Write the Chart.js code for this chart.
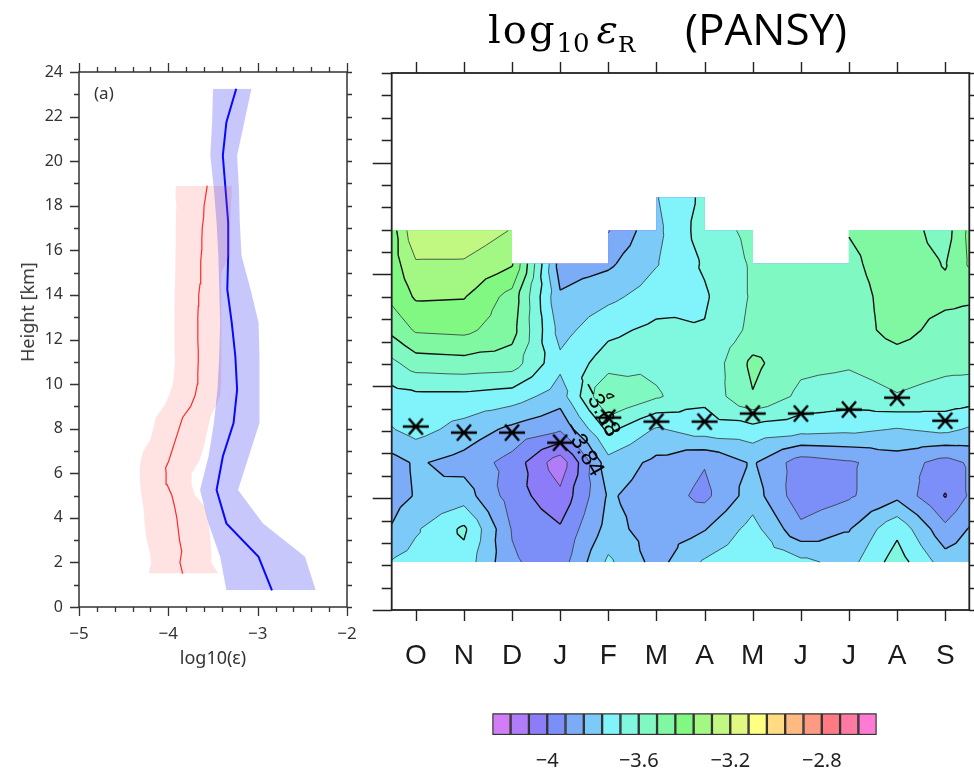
<!DOCTYPE html>
<html>
<head>
<meta charset="utf-8">
<script src="https://cdn.jsdelivr.net/npm/chart.js"></script>
<style>
  body { margin:0; background:#fff; }
  #page { position:relative; width:974px; height:771px; overflow:hidden; background:#fff; }
  canvas { position:absolute; }
  .lbl { position:absolute; white-space:nowrap; color:#333; font-family:"Noto Sans", sans-serif; line-height:1; }
  .ttl { position:absolute; white-space:nowrap; color:#000; height:60px; line-height:60px; }
</style>
</head>
<body>
<div id="page">
  <canvas id="profile" width="360" height="680" style="left:0;top:0"></canvas>
  <canvas id="contour" width="614" height="680" style="left:360px;top:0"></canvas>
  <canvas id="cbar" width="420" height="71" style="left:480px;top:700px"></canvas>
  <div class="lbl" style="left:27px;top:312px;font-size:18px;transform:translate(-50%,-50%) rotate(-90deg)">Height [km]</div>
  <div class="lbl" style="left:94px;top:84px;font-size:17px">(a)</div>
  <div class="ttl" style="left:488px;top:-1px;font-family:'DejaVu Serif';font-size:40px"><span style="letter-spacing:2px">log</span><sub style="font-size:26px;vertical-align:-9px">10</sub><span style="margin-left:7px;font-style:italic">ε</span><sub style="font-size:23px;vertical-align:-9px">R</sub></div>
  <div class="ttl" style="left:685px;top:-2px;font-family:'Open Sans';font-size:44px">(PANSY)</div>
</div>
<script>
// ---------- left panel: profiles (log10 eps vs height) ----------
const blueH    = [0.75, 2.25, 3.75, 5.25, 6.75, 8.25, 9.75, 11.25, 12.75, 14.25, 15.75, 17.25, 18.75, 20.25, 21.75, 23.25];
const blueMean = [-2.84, -2.99, -3.35, -3.46, -3.39, -3.27, -3.23, -3.25, -3.29, -3.34, -3.33, -3.33, -3.36, -3.39, -3.35, -3.24];
const blueLo   = [-3.35, -3.42, -3.55, -3.645, -3.55, -3.49, -3.45, -3.43, -3.42, -3.43, -3.44, -3.46, -3.49, -3.53, -3.51, -3.50];
const blueHi   = [-2.35, -2.47, -2.94, -3.22, -3.10, -2.98, -2.98, -2.98, -2.99, -3.08, -3.18, -3.20, -3.21, -3.23, -3.15, -3.07];

const redH    = [1.5, 2.0, 2.5, 3.0, 3.5, 4.0, 4.5, 5.0, 5.5, 6.0, 6.25, 6.5, 7.0, 7.5, 8.0, 8.5, 9.0, 9.5, 10.0, 10.5, 11.0, 11.5, 12.0, 12.5, 13.0, 13.5, 14.0, 14.5, 15.0, 15.5, 16.0, 16.5, 17.0, 17.5, 18.0, 18.5, 18.9];
const redMean = [-3.84, -3.87, -3.85, -3.875, -3.89, -3.905, -3.93, -3.96, -4.015, -4.025, -4.03, -4.00, -3.96, -3.92, -3.88, -3.84, -3.75, -3.70, -3.675, -3.67, -3.665, -3.665, -3.67, -3.67, -3.67, -3.665, -3.66, -3.645, -3.64, -3.635, -3.627, -3.625, -3.62, -3.605, -3.60, -3.58, -3.565];
const redLo   = [-4.22, -4.19, -4.21, -4.24, -4.26, -4.27, -4.28, -4.30, -4.315, -4.32, -4.32, -4.31, -4.28, -4.20, -4.17, -4.14, -4.05, -3.99, -3.95, -3.935, -3.925, -3.93, -3.93, -3.935, -3.935, -3.93, -3.93, -3.925, -3.925, -3.925, -3.925, -3.92, -3.92, -3.915, -3.91, -3.92, -3.915];
const redHi   = [-3.44, -3.52, -3.52, -3.53, -3.54, -3.56, -3.59, -3.70, -3.74, -3.74, -3.70, -3.66, -3.615, -3.585, -3.56, -3.53, -3.47, -3.42, -3.41, -3.40, -3.405, -3.41, -3.41, -3.41, -3.41, -3.41, -3.41, -3.41, -3.40, -3.35, -3.31, -3.31, -3.31, -3.305, -3.30, -3.29, -3.29];

const profileXTicks = [-5, -4, -3, -2];

// ---------- right panel: monthly height section of log10 eps_R ----------
const months = ['O', 'N', 'D', 'J', 'F', 'M', 'A', 'M', 'J', 'J', 'A', 'S'];
const tropopause = [8.20, 7.93, 7.93, 7.48, 8.60, 8.42, 8.42, 8.78, 8.78, 8.96, 9.49, 8.46];
// grid columns: left edge, Oct..Sep, right edge (month index)
const gridX = [-0.5, 0, 1, 2, 3, 4, 5, 6, 7, 8, 9, 10, 11, 11.5];
const heights = [2.14, 3.62, 5.10, 6.59, 8.07, 9.55, 11.03, 12.51, 14.00, 15.48, 16.96, 18.44];
//              edge    O       N       D       J       F       M       A       M       J       J       A       S      edge
const r02 = [-3.755, -3.73, -3.71, -3.91, -3.96, -3.745, -3.87, -3.75, -3.70, -3.74, -3.79, -3.64, -3.80, -3.79];
const r04 = [-3.835, -3.77, -3.665, -3.925, -3.99, -3.81, -3.88, -3.845, -3.73, -3.90, -3.845, -3.70, -3.90, -3.835];
const r05 = [-3.87, -3.835, -3.80, -3.96, -4.06, -3.83, -3.88, -3.94, -3.80, -3.97, -3.93, -3.86, -4.005, -3.91];
const r07 = [-3.87, -3.83, -3.87, -3.95, -4.13, -3.79, -3.86, -3.915, -3.83, -3.96, -3.93, -3.88, -3.95, -3.91];
const r08 = [-3.765, -3.73, -3.79, -3.86, -3.91, -3.66, -3.77, -3.72, -3.71, -3.73, -3.74, -3.765, -3.74, -3.77];
const r10 = [-3.71, -3.70, -3.70, -3.72, -3.80, -3.51, -3.59, -3.66, -3.525, -3.62, -3.64, -3.605, -3.63, -3.64];
const r11 = [-3.62, -3.56, -3.55, -3.56, -3.74, -3.64, -3.62, -3.67, -3.50, -3.58, -3.59, -3.56, -3.58, -3.58];
const r13 = [-3.50, -3.43, -3.42, -3.49, -3.79, -3.70, -3.66, -3.675, -3.58, -3.57, -3.56, -3.49, -3.55, -3.55];
const r14 = [-3.42, -3.35, -3.355, -3.47, -3.83, -3.78, -3.72, -3.69, -3.59, -3.57, -3.56, -3.48, -3.50, -3.51];
const r15 = [-3.40, -3.29, -3.29, -3.35, -3.88, -3.855, -3.765, -3.67, -3.59, -3.56, -3.54, -3.47, -3.525, -3.43];
const r17 = [-3.40, -3.21, -3.22, -3.285, null, -3.925, -3.78, -3.64, -3.58, null, -3.515, -3.47, -3.56, -3.42];
const r18 = [null, null, null, null, null, null, -3.765, -3.66, null, null, null, null, null, null];
const epsRows = [r02, r04, r05, r07, r08, r10, r11, r13, r14, r15, r17, r18];

const levels = [-4.16, -4.08, -4.00, -3.92, -3.84, -3.76, -3.68, -3.60, -3.52, -3.44, -3.36, -3.28, -3.20, -3.12, -3.04, -2.96, -2.88, -2.80, -2.72, -2.64];
const levelColors = ['#d27cf6', '#b07cf8', '#8c7cf8', '#7c8ef8', '#7cacf8', '#7ccaf8', '#80f4fa', '#80f8e0', '#80f8c2', '#80f8a2', '#80f882',
                     '#a2f882', '#c0f882', '#e0f882', '#ffff82', '#ffdc82', '#ffba82', '#ff9a82', '#ff7a82', '#ff7aa2', '#ff7ad2'];
const colorbarTicks = [-4, -3.6, -3.2, -2.8];

const minus = v => (v < 0 ? '\u2212' : '') + Math.abs(v);
const pts = (xs, ys) => xs.map((v, i) => ({x: v, y: ys[i]}));
const noPad = s => { s.paddingLeft = 0; s.paddingRight = 0; s.paddingTop = 0; s.paddingBottom = 0; };

// frame + outward tick marks drawn against the chart's own scales
function framePlugin(spec) {
  return {
    id: 'frame',
    afterDraw(chart) {
      const {ctx, chartArea: a, scales: {x, y}} = chart;
      ctx.save();
      ctx.strokeStyle = spec.color;
      ctx.lineWidth = spec.tickWidth;
      ctx.beginPath();
      spec.xTicks.forEach(([v, len]) => {
        const p = Math.round(x.getPixelForValue(v)) + 0.5;
        ctx.moveTo(p, a.bottom); ctx.lineTo(p, a.bottom + len);
        ctx.moveTo(p, a.top); ctx.lineTo(p, a.top - len);
      });
      spec.yTicks.forEach(([v, len, rlen]) => {
        const p = Math.round(y.getPixelForValue(v)) + 0.5;
        ctx.moveTo(a.left, p); ctx.lineTo(a.left - len, p);
        ctx.moveTo(a.right, p); ctx.lineTo(a.right + rlen, p);
      });
      ctx.stroke();
      ctx.lineWidth = spec.width;
      ctx.strokeRect(a.left, a.top, a.right - a.left, a.bottom - a.top);
      ctx.restore();
    }
  };
}

// ---------- left chart ----------
const profXT = [], profYT = [];
for (let k = 0; k <= 15; k++) profXT.push([-5 + k * 0.2, k % 5 === 0 ? 9 : 5]);
for (let k = 0; k <= 24; k++) profYT.push([k, k % 2 === 0 ? 9 : 5, 5]);

new Chart(document.getElementById('profile'), {
  type: 'line',
  data: {
    datasets: [
      {data: pts(blueLo, blueH), borderWidth: 0, pointRadius: 0, fill: false},
      {data: pts(blueHi, blueH), borderWidth: 0, pointRadius: 0, fill: '-1', backgroundColor: 'rgba(30,30,240,0.25)'},
      {data: pts(redLo, redH), borderWidth: 0, pointRadius: 0, fill: false},
      {data: pts(redHi, redH), borderWidth: 0, pointRadius: 0, fill: '-1', backgroundColor: 'rgba(255,110,110,0.2)'},
      {data: pts(blueMean, blueH), borderColor: '#0000ff', borderWidth: 2, pointRadius: 0, fill: false},
      {data: pts(redMean, redH), borderColor: '#ff1a1a', borderWidth: 1.2, pointRadius: 0, fill: false}
    ]
  },
  options: {
    indexAxis: 'y',
    responsive: false,
    animation: false,
    layout: {autoPadding: false, padding: {top: 72, right: 13}},
    elements: {line: {tension: 0}},
    plugins: {legend: {display: false}, tooltip: {enabled: false}},
    scales: {
      x: {
        type: 'linear', min: -5, max: -2,
        afterBuildTicks: s => { s.ticks = profileXTicks.map(v => ({value: v})); },
        ticks: {callback: v => minus(v), font: {family: 'Noto Sans', size: 17}, color: '#333', padding: 17, maxRotation: 0},
        grid: {display: false, drawTicks: false},
        border: {display: false},
        title: {display: true, text: 'log10(ε)', font: {family: 'Noto Sans', size: 18}, color: '#333', padding: {top: 0, bottom: 10}},
        afterFit: s => { noPad(s); s.height = 73; }
      },
      y: {
        type: 'linear', min: 0, max: 24,
        ticks: {stepSize: 2, font: {family: 'Noto Sans', size: 16}, color: '#333', padding: 16},
        grid: {display: false, drawTicks: false},
        border: {display: false},
        afterFit: s => { noPad(s); s.width = 79; }
      }
    }
  },
  plugins: [framePlugin({color: '#333', width: 1.5, tickWidth: 1.3, xTicks: profXT, yTicks: profYT})]
});

// ---------- right chart: filled contours ----------
function clipAbove(poly, t) {
  const out = [];
  for (let k = 0; k < poly.length; k++) {
    const A = poly[k], B = poly[(k + 1) % poly.length];
    const ain = A[2] >= t, bin = B[2] >= t;
    if (ain) out.push(A);
    if (ain !== bin) {
      const f = (t - A[2]) / (B[2] - A[2]);
      out.push([A[0] + f * (B[0] - A[0]), A[1] + f * (B[1] - A[1]), t]);
    }
  }
  return out;
}

const contourLabels = [
  {text: '\u22123.68', x: 3.83, h: 8.96, rot: 62},
  {text: '\u22123.84', x: 3.48, h: 7.17, rot: 60}
];

const contourPlugin = {
  id: 'contour',
  beforeDatasetsDraw(chart) {
    const {ctx, chartArea: a, scales: {x, y}} = chart;
    const tris = [];
    for (let j = 0; j < epsRows.length - 1; j++) {
      for (let i = 0; i < gridX.length - 1; i++) {
        const v = [epsRows[j][i], epsRows[j][i + 1], epsRows[j + 1][i + 1], epsRows[j + 1][i]];
        if (v.some(z => z == null)) continue;
        const x0 = x.getPixelForValue(gridX[i]), x1 = x.getPixelForValue(gridX[i + 1]);
        const y0 = y.getPixelForValue(heights[j]), y1 = y.getPixelForValue(heights[j + 1]);
        const P = [[x0, y0, v[0]], [x1, y0, v[1]], [x1, y1, v[2]], [x0, y1, v[3]]];
        const c = [(x0 + x1) / 2, (y0 + y1) / 2, (v[0] + v[1] + v[2] + v[3]) / 4];
        for (let k = 0; k < 4; k++) tris.push([P[k], P[(k + 1) % 4], c]);
      }
    }
    ctx.save();
    ctx.beginPath();
    ctx.rect(a.left, a.top, a.right - a.left, a.bottom - a.top);
    ctx.clip();
    levelColors.forEach((col, b) => {
      ctx.beginPath();
      tris.forEach(t => {
        const p = b === 0 ? t : clipAbove(t, levels[b - 1]);
        if (p.length < 3) return;
        ctx.moveTo(p[0][0], p[0][1]);
        for (let k = 1; k < p.length; k++) ctx.lineTo(p[k][0], p[k][1]);
        ctx.closePath();
      });
      ctx.fillStyle = col;
      ctx.fill();
    });
    levels.forEach((t, k) => {
      ctx.beginPath();
      tris.forEach(tr => {
        const q = [];
        for (let e = 0; e < 3; e++) {
          const A = tr[e], B = tr[(e + 1) % 3];
          if ((A[2] >= t) !== (B[2] >= t)) {
            const f = (t - A[2]) / (B[2] - A[2]);
            q.push([A[0] + f * (B[0] - A[0]), A[1] + f * (B[1] - A[1])]);
          }
        }
        if (q.length === 2) { ctx.moveTo(q[0][0], q[0][1]); ctx.lineTo(q[1][0], q[1][1]); }
      });
      ctx.lineWidth = k % 2 === 0 ? 1.4 : 0.8;
      ctx.strokeStyle = k % 2 === 0 ? '#111' : '#333';
      ctx.stroke();
    });
    ctx.fillStyle = '#000';
    ctx.font = '23px "Liberation Sans"';
    ctx.textAlign = 'center';
    ctx.textBaseline = 'middle';
    contourLabels.forEach(l => {
      ctx.save();
      ctx.translate(x.getPixelForValue(l.x), y.getPixelForValue(l.h));
      ctx.rotate(l.rot * Math.PI / 180);
      ctx.fillText(l.text, 0, 0);
      ctx.restore();
    });
    ctx.restore();
  }
};

const star = document.createElement('canvas');
star.width = 28; star.height = 20;
{
  const sc = star.getContext('2d');
  sc.strokeStyle = '#000';
  sc.lineWidth = 2.5;
  sc.beginPath();
  sc.moveTo(1, 10); sc.lineTo(27, 10);
  sc.moveTo(7, 2); sc.lineTo(21, 18);
  sc.moveTo(21, 2); sc.lineTo(7, 18);
  sc.stroke();
}

const secXT = months.map((m, i) => [i, 11]);
const secYT = [];
for (let k = 0; k <= 24; k++) secYT.push([k, k % 5 === 0 ? 19 : 10, 5]);

new Chart(document.getElementById('contour'), {
  type: 'scatter',
  data: {
    datasets: [{
      data: tropopause.map((h, i) => ({x: i, y: h})),
      pointStyle: star, pointRadius: 10, pointHoverRadius: 10
    }]
  },
  options: {
    responsive: false,
    animation: false,
    layout: {autoPadding: false, padding: {top: 73, left: 31.7, right: 4.7}},
    plugins: {legend: {display: false}, tooltip: {enabled: false}},
    scales: {
      x: {
        type: 'linear', min: -0.5, max: 11.5,
        afterBuildTicks: s => { s.ticks = months.map((m, i) => ({value: i})); },
        ticks: {callback: (v, i) => months[i], autoSkip: false, maxRotation: 0, font: {family: 'Liberation Sans', size: 28}, color: '#1a1a1a', padding: 29},
        grid: {display: false, drawTicks: false},
        border: {display: false},
        afterFit: s => { noPad(s); s.height = 70; }
      },
      y: {type: 'linear', min: 0, max: 24, display: false}
    }
  },
  plugins: [contourPlugin, framePlugin({color: '#222', width: 1.8, tickWidth: 1.4, xTicks: secXT, yTicks: secYT})]
});

// ---------- colour bar ----------
const cbMin = -4.24, cbMax = -2.56;
const cbEdges = [cbMin, ...levels, cbMax];
new Chart(document.getElementById('cbar'), {
  type: 'bar',
  data: {
    labels: ['cb'],
    datasets: levelColors.map((c, i) => ({
      data: [[cbEdges[i], cbEdges[i + 1]]],
      backgroundColor: c, borderColor: '#333', borderWidth: 1.5, borderSkipped: false,
      grouped: false, barPercentage: 1, categoryPercentage: 1
    }))
  },
  options: {
    indexAxis: 'y',
    responsive: false,
    animation: false,
    layout: {autoPadding: false, padding: {top: 13.3, left: 12.3, right: 23.3}},
    plugins: {legend: {display: false}, tooltip: {enabled: false}},
    scales: {
      x: {
        type: 'linear', min: cbMin, max: cbMax,
        afterBuildTicks: s => { s.ticks = colorbarTicks.map(v => ({value: v})); },
        ticks: {callback: v => minus(v), font: {family: 'Noto Sans', size: 20}, color: '#222', padding: 14, maxRotation: 0},
        grid: {display: false, drawTicks: false},
        border: {display: false},
        afterFit: s => { noPad(s); s.height = 36; }
      },
      y: {display: false}
    }
  }
});
</script>
</body>
</html>
